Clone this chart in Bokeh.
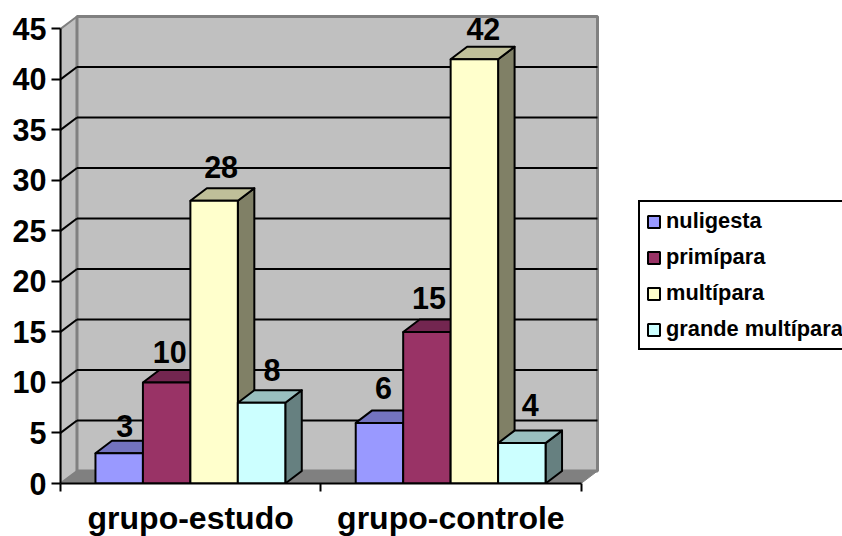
from bokeh.embed import file_html
from bokeh.resources import INLINE
from bokeh.plotting import figure
from bokeh.models import FixedTicker, Legend, LegendItem, ColumnDataSource, LinearAxis, Range1d
from bokeh.core.properties import value

groups = ["grupo-estudo", "grupo-controle"]
series = ["nuligesta", "primípara", "multípara", "grande multípara"]
nuligesta = [3, 6]
primipara = [10, 15]
multipara = [28, 42]
grande_multipara = [8, 4]
y_ticks = [0, 5, 10, 15, 20, 25, 30, 35, 40, 45]

values = [nuligesta, primipara, multipara, grande_multipara]
front = ["#9999FF", "#993366", "#FFFFCC", "#CCFFFF"]
top = ["#7373BF", "#732650", "#BFBF99", "#99BFBF"]
side = ["#4D4D80", "#4D1A33", "#808066", "#668080"]

# Pseudo-3D box geometry, in data units
PX_X = 260.5
PX_Y = 455 / 45
DX = 16.5 / PX_X
DY = 12.5 / PX_Y
BAR_W = 47.5 / PX_X
GAP = 35 / PX_X
FONT = "Liberation Sans"
X_END = 2 + DX
Y_END = 45 + DY

# Pixel nudges for the value labels, per series and group
LABEL_LIFT = 12.5
label_dx = [[5.5, 4], [3, 2], [7, 9], [10.5, 8.5]]
label_dy = [[15, 22], [18, 21], [21, 18], [20, 25.5]]

p = figure(
    width=842, height=536, frame_width=540, frame_height=469,
    x_range=Range1d(0, X_END + 3 / PX_X), y_range=Range1d(0, Y_END + 2 / PX_Y),
    output_backend="svg", toolbar_location=None, x_axis_type=None, y_axis_type=None,
    min_border_left=60, min_border_right=0, min_border_top=14, min_border_bottom=53,
    outline_line_color=None, background_fill_color="white",
)
p.grid.visible = False

# Walls and floor
p.patch([0, DX, DX, 0], [0, DY, Y_END, 45], fill_color="#C0C0C0", line_color="#808080", line_width=2)
p.patch([DX, X_END, X_END, DX], [DY, DY, Y_END, Y_END], fill_color="#C0C0C0", line_color="#808080", line_width=3)
p.patch([0, 2, X_END, DX], [0, 0, DY, DY], fill_color="#808080", line_color="#808080", line_width=1)

# Gridlines on the back wall with their returns along the side wall
levels = [t for t in y_ticks if 0 < t < 45]
p.segment(x0=[DX] * len(levels), y0=[t + DY for t in levels],
          x1=[X_END] * len(levels), y1=[t + DY for t in levels],
          line_color="black", line_width=2)
p.segment(x0=[0] * len(levels), y0=levels, x1=[DX] * len(levels),
          y1=[t + DY for t in levels], line_color="black", line_width=2)

# Bars: side and top faces first, then the front, so later series overlap earlier ones
items = []
for i, vals in enumerate(values):
    lefts = [g + GAP + i * BAR_W for g in range(len(groups))]
    rights = [l + BAR_W for l in lefts]
    p.patches(
        xs=[[r, r + DX, r + DX, r] for r in rights],
        ys=[[0, DY, v + DY, v] for v in vals],
        fill_color=side[i], line_color="black", line_width=2, line_join="round",
    )
    p.patches(
        xs=[[l, l + DX, r + DX, r] for l, r in zip(lefts, rights)],
        ys=[[v, v + DY, v + DY, v] for v in vals],
        fill_color=top[i], line_color="black", line_width=2, line_join="round",
    )
    bars = p.vbar(
        x=[(l + r) / 2 for l, r in zip(lefts, rights)], top=vals, bottom=0, width=BAR_W,
        fill_color=front[i], line_color="black", line_width=2,
    )
    items.append(LegendItem(label=series[i], renderers=[bars]))

# Value labels go on after every bar so none is covered
for i, vals in enumerate(values):
    src = ColumnDataSource(dict(
        x=[g + GAP + (i + 0.5) * BAR_W for g in range(len(groups))],
        y=vals, t=[str(v) for v in vals], xo=label_dx[i],
        yo=[-(d + LABEL_LIFT) for d in label_dy[i]],
    ))
    p.text(x="x", y="y", text="t", x_offset="xo", y_offset="yo", source=src,
           text_font=value(FONT), text_font_style="bold", text_font_size="30.5px",
           text_align="center", text_baseline="alphabetic", text_color="black")

y_axis = LinearAxis(
    ticker=FixedTicker(ticks=y_ticks), bounds=(0, 45),
    axis_line_color="black", axis_line_width=2,
    major_tick_line_color="black", major_tick_line_width=2,
    major_tick_in=0, major_tick_out=9, minor_tick_line_color=None,
    major_label_standoff=5, major_label_text_font=FONT,
    major_label_text_font_style="bold", major_label_text_font_size="30.5px",
    major_label_text_color="black",
)
p.add_layout(y_axis, "left")

x_axis = LinearAxis(
    ticker=FixedTicker(ticks=[0.5, 1.5], minor_ticks=[0, 1, 2]), bounds=(0, 2),
    major_label_overrides={0.5: groups[0], 1.5: groups[1]},
    axis_line_color="black", axis_line_width=2,
    major_tick_line_color=None, major_tick_in=0, major_tick_out=0,
    minor_tick_line_color="black", minor_tick_line_width=2, minor_tick_in=0, minor_tick_out=8,
    major_label_standoff=8, major_label_text_font=FONT,
    major_label_text_font_style="bold", major_label_text_font_size="32px",
    major_label_text_color="black",
)
p.add_layout(x_axis, "below")

legend = Legend(
    items=items, location=(38, 133), orientation="vertical",
    border_line_color="black", border_line_alpha=1, border_line_width=2,
    background_fill_color="white", background_fill_alpha=1,
    glyph_width=15, glyph_height=15, label_standoff=5, spacing=10, padding=6, margin=0,
    label_height=24, label_text_font=FONT, label_text_font_style="bold",
    label_text_font_size="21.8px", label_text_color="black",
)
p.add_layout(legend, "right")

with open("out.html", "w") as f:
    f.write(file_html(p, INLINE))
